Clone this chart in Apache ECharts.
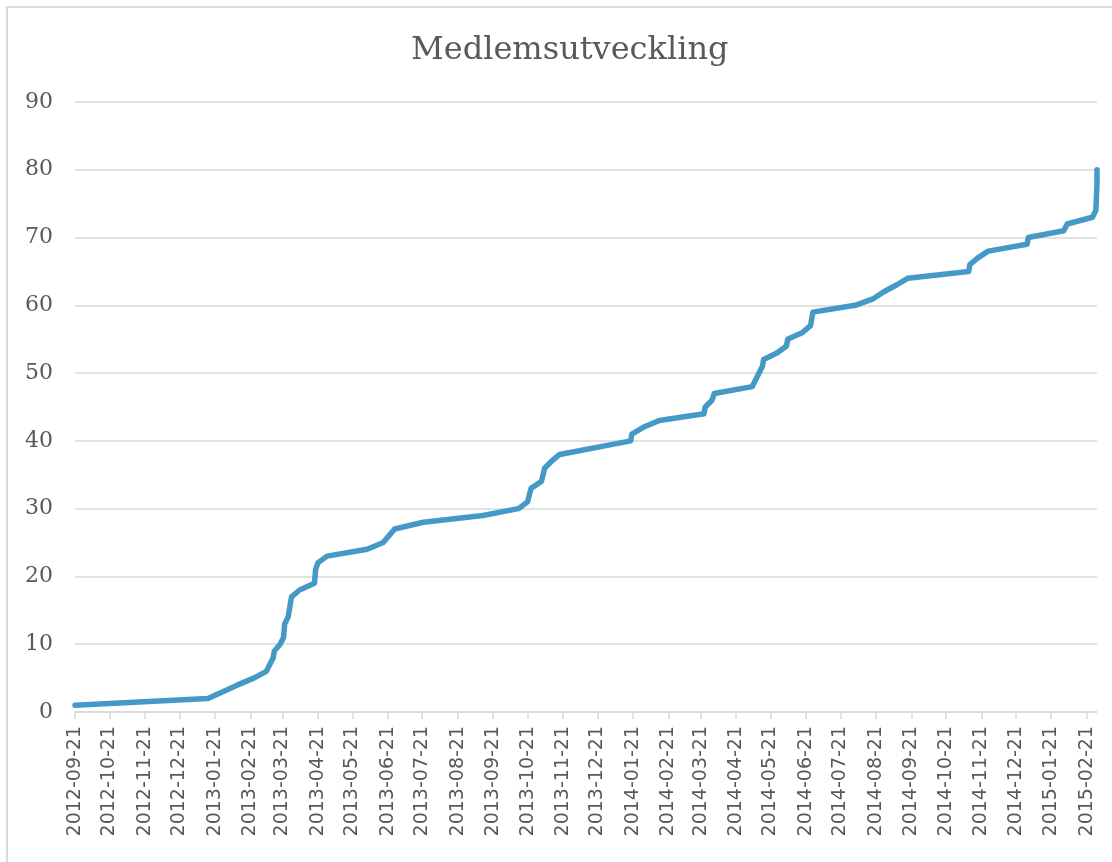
<!DOCTYPE html>
<html>
<head>
<meta charset="utf-8">
<script src="https://cdn.jsdelivr.net/npm/echarts@6/dist/echarts.min.js"></script>
<style>
  html, body { margin: 0; padding: 0; background: #fff; }
  #frame {
    position: absolute; left: 6px; top: 6px; width: 1200px; height: 1000px;
    border-left: 2px solid #d9d9d9; border-top: 2px solid #d9d9d9;
  }
  #chart-container { position: absolute; left: 0; top: 0; width: 1112px; height: 862px; }
</style>
</head>
<body>
<div id="frame"></div>
<div id="chart-container"></div>
<script>
// date of each reading and member count at that date
var dates = [
  "2012-09-21", "2013-01-15", "2013-01-28", "2013-02-10", "2013-02-24", "2013-03-07",
  "2013-03-13", "2013-03-14", "2013-03-19", "2013-03-22", "2013-03-23", "2013-03-26",
  "2013-03-28", "2013-03-29", "2013-04-05", "2013-04-18", "2013-04-19", "2013-04-21",
  "2013-04-29", "2013-06-03", "2013-06-17", "2013-06-27", "2013-07-22", "2013-09-12",
  "2013-10-13", "2013-10-21", "2013-10-24", "2013-11-02", "2013-11-05", "2013-11-11",
  "2013-11-18", "2014-01-19", "2014-01-20", "2014-01-30", "2014-02-13", "2014-03-24",
  "2014-03-25", "2014-03-31", "2014-04-02", "2014-05-05", "2014-05-08", "2014-05-14",
  "2014-05-15", "2014-05-27", "2014-06-04", "2014-06-05", "2014-06-18", "2014-06-25",
  "2014-06-27", "2014-08-03", "2014-08-19", "2014-08-28", "2014-09-08", "2014-09-18",
  "2014-11-10", "2014-11-11", "2014-11-18", "2014-11-27", "2014-12-31", "2015-01-01",
  "2015-02-01", "2015-02-04", "2015-02-26", "2015-03-01", "2015-03-02", "2015-03-02"
];
var members = [
  1, 2, 3, 4, 5, 6,
  8, 9, 10, 11, 13, 14,
  16, 17, 18, 19, 21, 22,
  23, 24, 25, 27, 28, 29,
  30, 31, 33, 34, 36, 37,
  38, 40, 41, 42, 43, 44,
  45, 46, 47, 48, 49, 51,
  52, 53, 54, 55, 56, 57,
  59, 60, 61, 62, 63, 64,
  65, 66, 67, 68, 69, 70,
  71, 72, 73, 74, 78, 80
];
// x axis tick labels (one per month)
var tickDates = [
  "2012-09-21", "2012-10-21", "2012-11-21", "2012-12-21", "2013-01-21", "2013-02-21",
  "2013-03-21", "2013-04-21", "2013-05-21", "2013-06-21", "2013-07-21", "2013-08-21",
  "2013-09-21", "2013-10-21", "2013-11-21", "2013-12-21", "2014-01-21", "2014-02-21",
  "2014-03-21", "2014-04-21", "2014-05-21", "2014-06-21", "2014-07-21", "2014-08-21",
  "2014-09-21", "2014-10-21", "2014-11-21", "2014-12-21", "2015-01-21", "2015-02-21"
];
var yTicks = [0, 10, 20, 30, 40, 50, 60, 70, 80, 90];

function ts(s) {
  var p = s.split("-");
  return Date.UTC(+p[0], +p[1] - 1, +p[2]);
}
function fmt(v) {
  var d = new Date(v);
  var m = d.getUTCMonth() + 1, day = d.getUTCDate();
  return d.getUTCFullYear() + "-" + (m < 10 ? "0" + m : m) + "-" + (day < 10 ? "0" + day : day);
}

var seriesData = [];
dates.forEach(function (d, i) {
  seriesData.push([ts(d), members[i]]);
});
var tickValues = tickDates.map(ts);

var dom = document.getElementById("chart-container");
var myChart = echarts.init(dom, null, { renderer: "canvas" });

var option = {
  animation: false,
  title: {
    text: "Medlemsutveckling",
    left: 406,
    top: 30,
    textStyle: {
      fontFamily: "DejaVu Serif",
      fontWeight: "normal",
      fontSize: 32,
      color: "#595959",
    },
  },
  grid: { left: 75, right: 15, top: 102, bottom: 150, containLabel: false },
  xAxis: {
    type: "value",
    min: ts(dates[0]),
    max: ts(dates[dates.length - 1]),
    axisLine: { show: true, lineStyle: { color: "#d9d9d9", width: 1.5 } },
    axisTick: {
      show: true,
      customValues: tickValues,
      length: 7,
      lineStyle: { color: "#d9d9d9", width: 1.5 },
    },
    axisLabel: {
      customValues: tickValues,
      rotate: 90,
      margin: 14,
      formatter: fmt,
      fontFamily: "DejaVu Sans",
      fontSize: 19,
      color: "#595959",
    },
    splitLine: { show: false },
  },
  yAxis: {
    type: "value",
    min: yTicks[0],
    max: yTicks[yTicks.length - 1],
    interval: 10,
    axisLine: { show: false },
    axisTick: { show: false },
    axisLabel: {
      margin: 22,
      fontFamily: "DejaVu Serif",
      fontSize: 22,
      color: "#595959",
    },
    splitLine: { lineStyle: { color: "#d9d9d9", width: 1.5 } },
  },
  series: [
    {
      type: "line",
      data: seriesData,
      showSymbol: false,
      symbol: "none",
      lineStyle: { color: "#4599c7", width: 5.5, cap: "round", join: "round" },
    },
  ],
};

if (option && typeof option === "object") {
  myChart.setOption(option);
}
window.addEventListener("resize", myChart.resize);
</script>
</body>
</html>
